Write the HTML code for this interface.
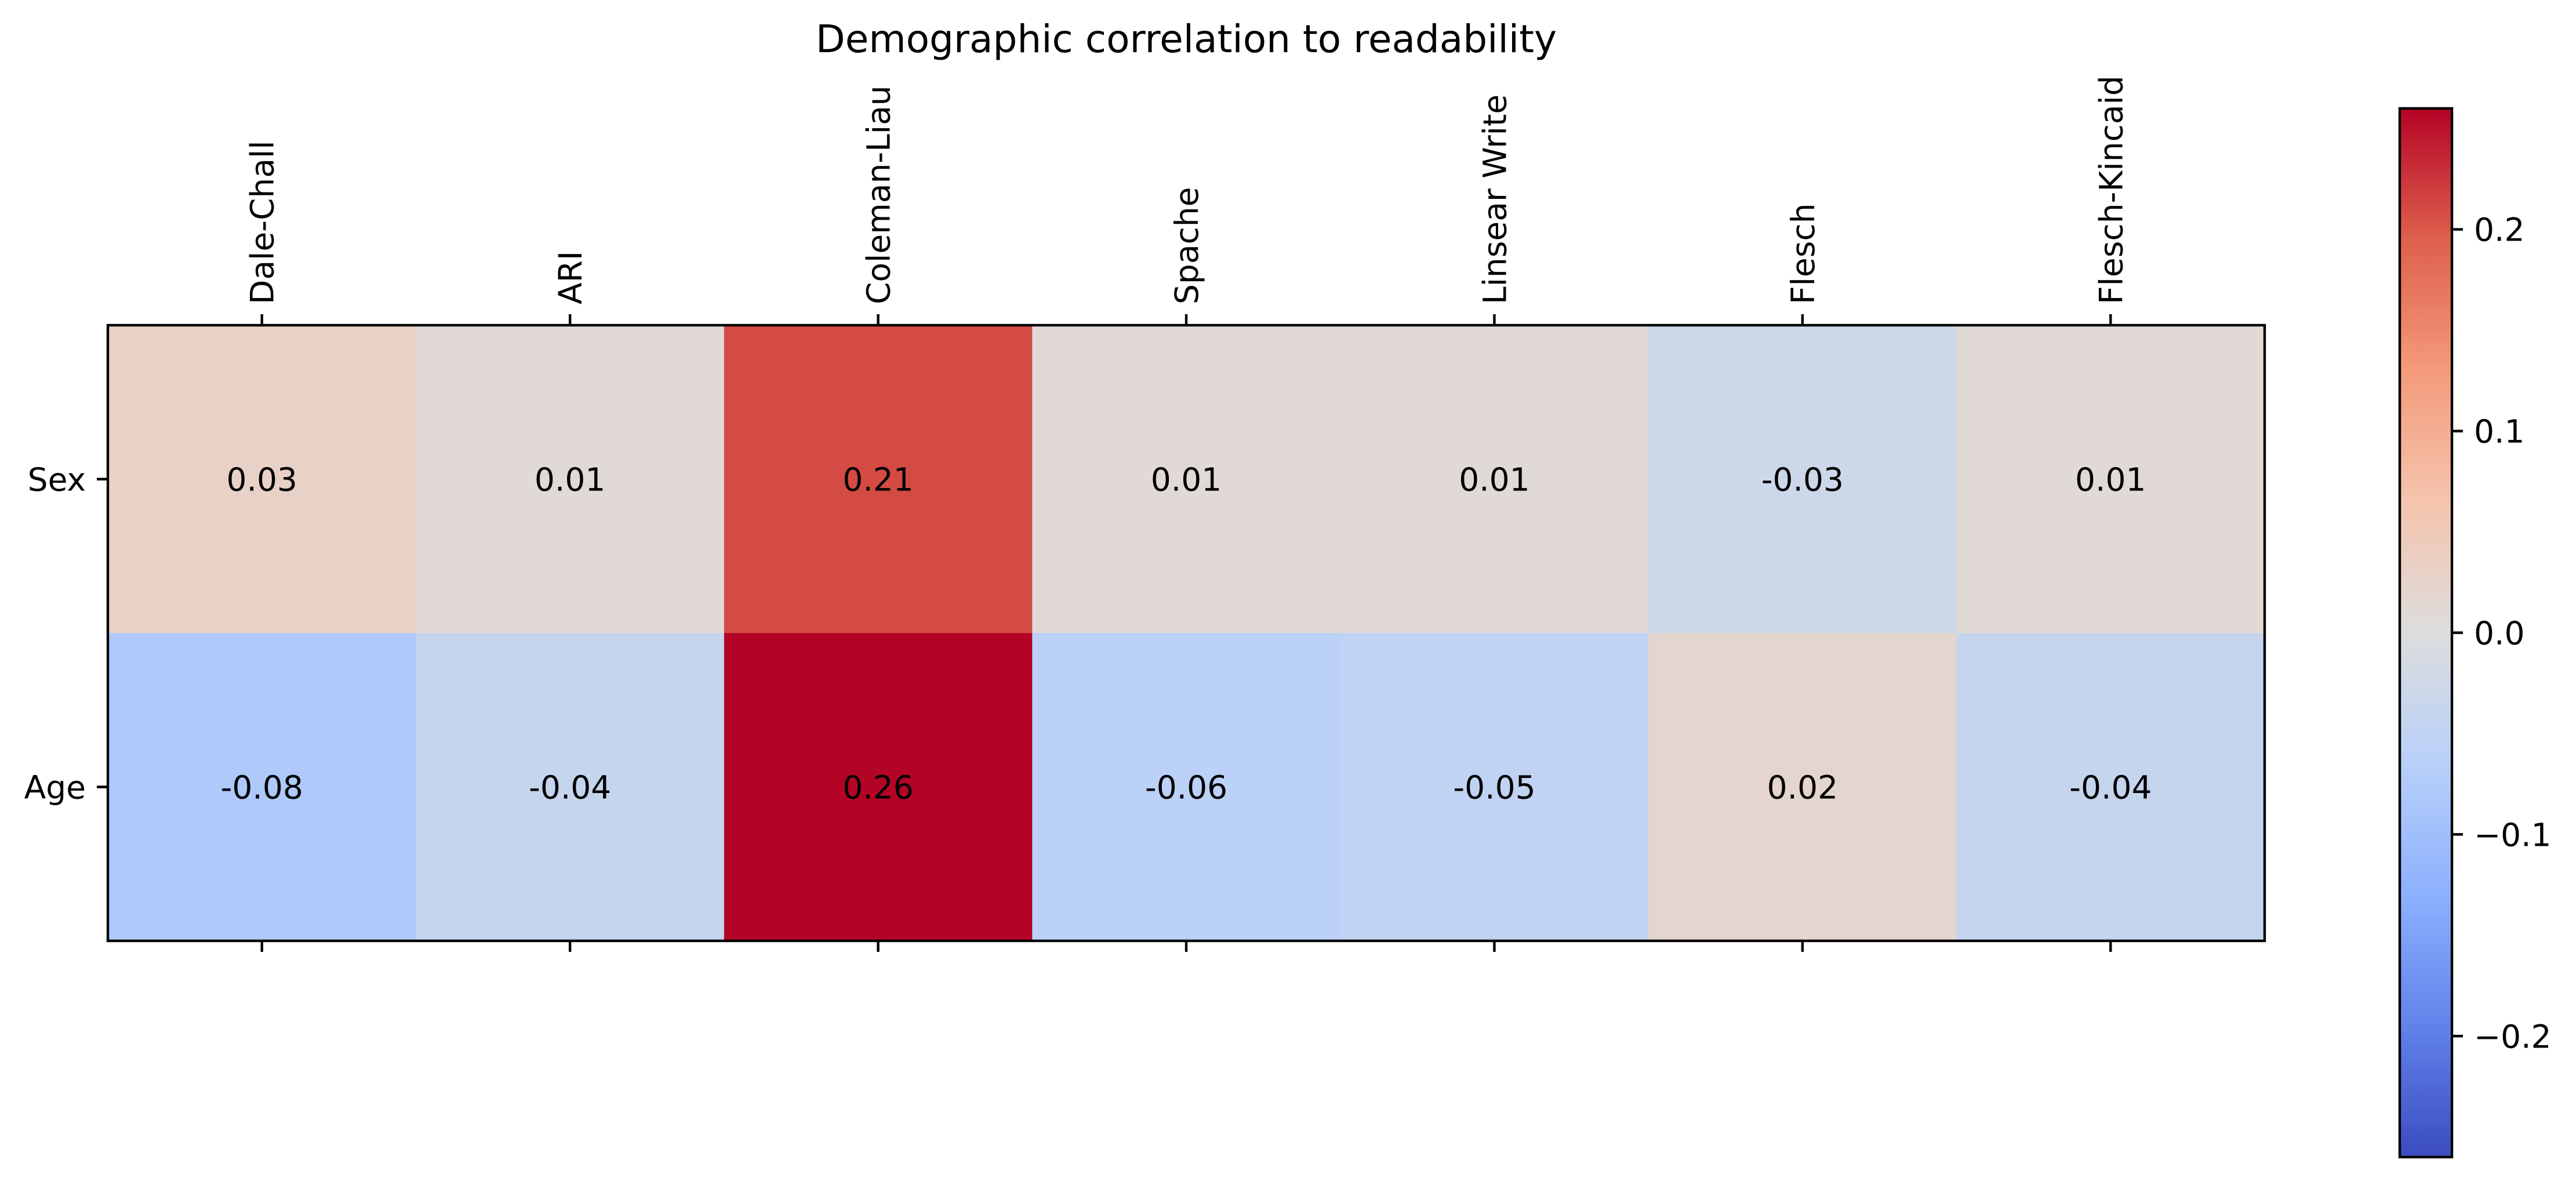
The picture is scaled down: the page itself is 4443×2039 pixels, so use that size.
<!DOCTYPE html>
<html><head><meta charset="utf-8"><style>
html,body{margin:0;padding:0;background:#fff;}
svg{display:block;font-family:"DejaVu Sans","Liberation Sans",sans-serif;}
</style></head><body>
<svg id="chart" width="4443" height="2039" viewBox="0 0 4443 2039" xmlns="http://www.w3.org/2000/svg">
<rect width="4443" height="2039" fill="#fff"/>
<text x="2046" y="90" font-size="66" text-anchor="middle">Demographic correlation to readability</text>
<g id="cells"></g><g id="axes"></g><g id="cbar"></g>
</svg>
<script>
const columns = ["Dale-Chall","ARI","Coleman-Liau","Spache","Linsear Write","Flesch","Flesch-Kincaid"];
const rows = ["Sex","Age"];
const sexValues = [0.03,0.01,0.21,0.01,0.01,-0.03,0.01];
const ageValues = [-0.08,-0.04,0.26,-0.06,-0.05,0.02,-0.04];
const cbarTicks = [-0.2,-0.1,0.0,0.1,0.2];
const cbarTickLabels = ["\u22120.2","\u22120.1","0.0","0.1","0.2"];

const NS="http://www.w3.org/2000/svg";
const L=186,R=3906,T=561,B=1623;
const FS=55,TL=19,SW=4.4,PAD=19;
const matrix=[sexValues,ageValues];
const vmax=Math.max(...matrix.flat().map(Math.abs));
const cw=(R-L)/columns.length, rh=(B-T)/rows.length;
const xPos=i=>L+cw*i, yPos=j=>T+rh*j;
const stops=[[59,76,192],[98,130,234],[141,176,254],[184,208,249],[221,221,221],[245,196,173],[244,154,123],[222,96,77],[180,4,38]];
function cmap(v){let t=(v+vmax)/(2*vmax);t=Math.max(0,Math.min(1,t));const p=t*8,i=Math.min(7,Math.floor(p)),f=p-i;
 const c=stops[i].map((a,k)=>Math.round(a+(stops[i+1][k]-a)*f));return `rgb(${c})`;}
function mk(tag,attrs,parent){const e=document.createElementNS(NS,tag);for(const k in attrs)e.setAttribute(k,attrs[k]);parent.appendChild(e);return e;}
const cells=document.getElementById('cells'),axes=document.getElementById('axes'),cb=document.getElementById('cbar');
matrix.forEach((row,j)=>row.forEach((v,i)=>{
 const r=mk('rect',{x:xPos(i),y:yPos(j),width:cw+0.5,height:rh+0.5,fill:cmap(v)},cells);
 
 
 const t=mk('text',{x:xPos(i)+cw/2,y:yPos(j)+rh/2+20,'font-size':FS,'text-anchor':'middle'},cells);
 t.textContent=v.toFixed(2);
 
 
}));
const frame=mk('rect',{x:L,y:T,width:R-L,height:B-T,fill:'none',stroke:'#000','stroke-width':SW},axes);


columns.forEach((c,i)=>{
 const x=xPos(i)+cw/2;
 mk('line',{x1:x,x2:x,y1:T,y2:T-TL,stroke:'#000','stroke-width':SW},axes);
 mk('line',{x1:x,x2:x,y1:B,y2:B+TL,stroke:'#000','stroke-width':SW},axes);
 const ty=T-TL-PAD+2;
 const t=mk('text',{x:x+20,y:ty,'font-size':FS,transform:`rotate(-90 ${x+20} ${ty})`},axes);
 t.textContent=c;
 
 
});
rows.forEach((r,j)=>{
 const y=yPos(j)+rh/2;
 mk('line',{x1:L,x2:L-TL,y1:y,y2:y,stroke:'#000','stroke-width':SW},axes);
 const t=mk('text',{x:L-TL-PAD,y:y+20,'font-size':FS,'text-anchor':'end'},axes);
 t.textContent=r;
 
 
});
const CL=4139,CR=4229,CT=187,CB=1996;
const cy=v=>CT+(vmax-v)/(2*vmax)*(CB-CT);
const defs=mk('defs',{},cb);
const g=mk('linearGradient',{id:'grad',x1:0,y1:1,x2:0,y2:0},defs);
stops.forEach((s,k)=>mk('stop',{offset:k/8,'stop-color':`rgb(${s})`},g));
const bar=mk('rect',{x:CL,y:CT,width:CR-CL,height:CB-CT,fill:'url(#grad)',stroke:'#000','stroke-width':SW},cb);


cbarTicks.forEach((v,k)=>{
 const y=cy(v);
 mk('line',{x1:CR,x2:CR+TL,y1:y,y2:y,stroke:'#000','stroke-width':SW},cb);
 const t=mk('text',{x:CR+TL+PAD,y:y+20,'font-size':FS},cb);
 t.textContent=cbarTickLabels[k];
 
 
});
</script>
</body></html>
